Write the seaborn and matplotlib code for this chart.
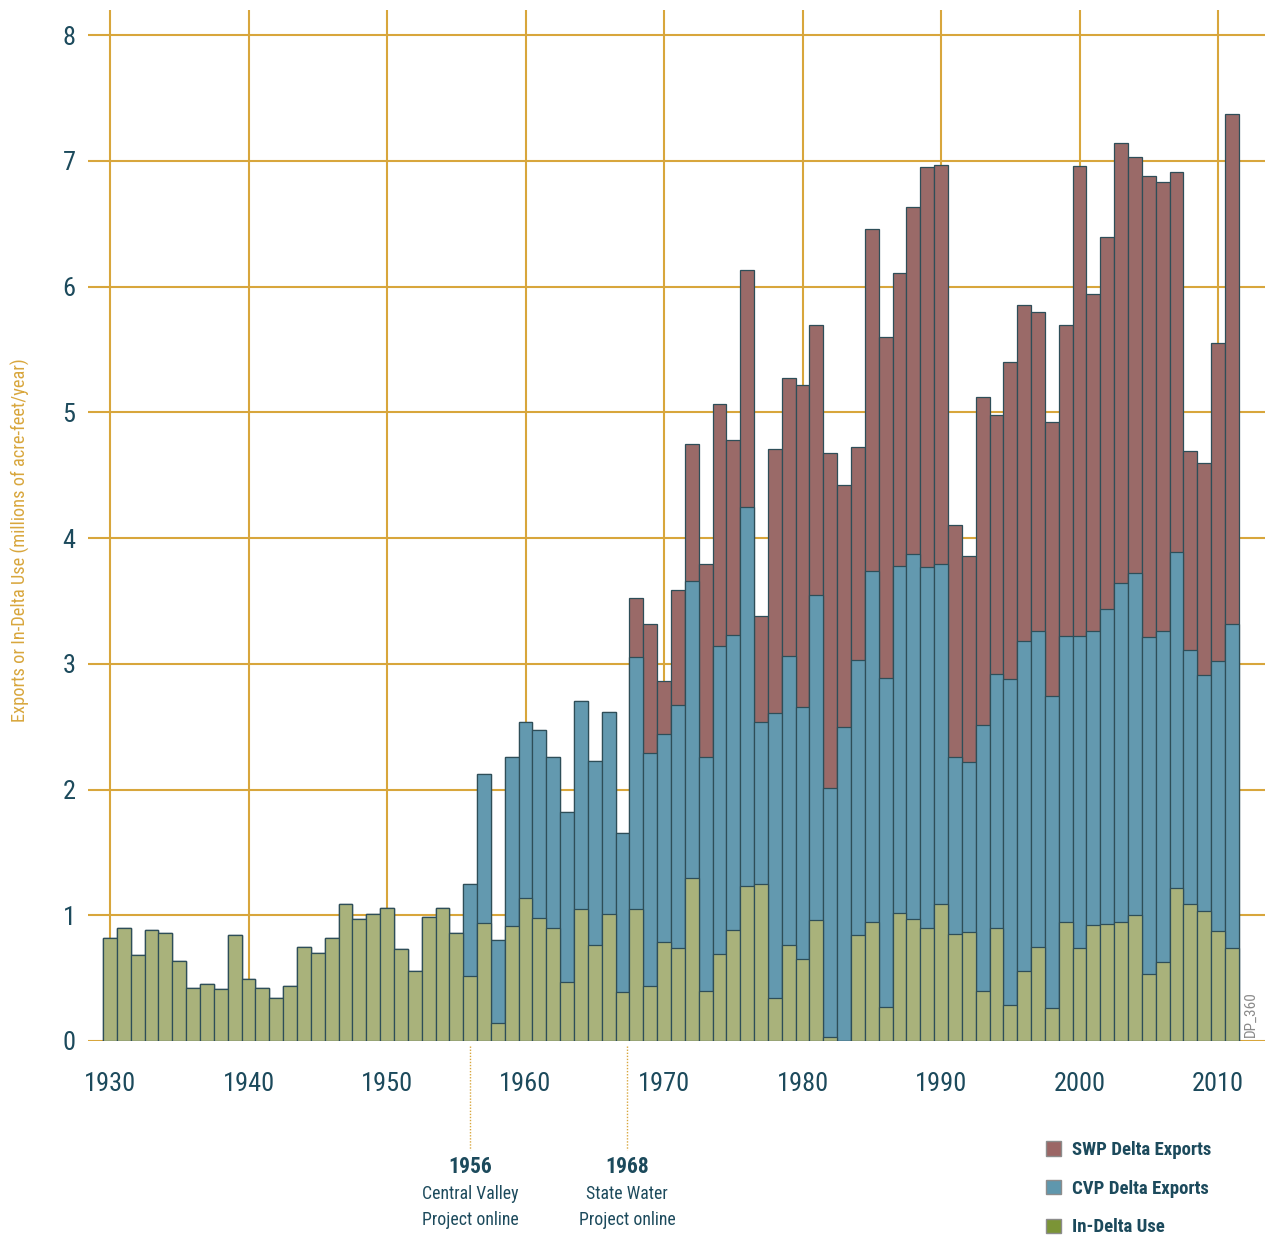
import numpy as np
import pandas as pd
import matplotlib
matplotlib.use("Agg")
import matplotlib.pyplot as plt
from matplotlib.patches import Patch
from matplotlib import font_manager as fm
import seaborn as sns

# ---------------- data (millions of acre-feet / year) ----------------
years = list(range(1930, 2012))

in_delta = [0.82, 0.90, 0.68, 0.88, 0.855, 0.64, 0.42, 0.45, 0.41, 0.845,
            0.49, 0.42, 0.34, 0.44, 0.75, 0.70, 0.82, 1.09, 0.97, 1.01,
            1.055, 0.73, 0.56, 0.99, 1.06, 0.86, 0.52, 0.935, 0.14, 0.915,
            1.14, 0.98, 0.90, 0.47, 1.05, 0.76, 1.01, 0.39, 1.05, 0.44,
            0.79, 0.74, 1.30, 0.40, 0.69, 0.88, 1.235, 1.25, 0.345, 0.76,
            0.65, 0.96, 0.035, 0.0, 0.84, 0.95, 0.27, 1.02, 0.97, 0.895,
            1.09, 0.85, 0.87, 0.395, 0.895, 0.29, 0.56, 0.75, 0.265, 0.95,
            0.74, 0.925, 0.93, 0.95, 1.00, 0.53, 0.63, 1.215, 1.09, 1.03,
            0.875, 0.74]

cvp = [0.0] * 26 + [0.73, 1.185, 0.66, 1.345,
       1.40, 1.49, 1.36, 1.35, 1.65, 1.47, 1.61, 1.265, 2.00, 1.85,
       1.65, 1.93, 2.355, 1.86, 2.455, 2.35, 3.015, 1.29, 2.265, 2.30,
       2.01, 2.59, 1.975, 2.50, 2.19, 2.79, 2.62, 2.76, 2.90, 2.875,
       2.70, 1.41, 1.345, 2.115, 2.025, 2.585, 2.62, 2.51, 2.475, 2.27,
       2.48, 2.335, 2.505, 2.69, 2.72, 2.68, 2.63, 2.675, 2.02, 1.88,
       2.145, 2.575]

swp = [0.0] * 38 + [0.475, 1.03,
       0.42, 0.915, 1.09, 1.53, 1.92, 1.55, 1.88, 0.84, 2.10, 2.215,
       2.56, 2.14, 2.67, 1.92, 1.69, 2.72, 2.71, 2.325, 2.76, 3.18,
       3.18, 1.845, 1.645, 2.61, 2.06, 2.525, 2.675, 2.535, 2.18, 2.47,
       3.74, 2.68, 2.955, 3.50, 3.31, 3.67, 3.57, 3.02, 1.58, 1.69,
       2.53, 4.055]

series_labels = ["SWP Delta Exports", "CVP Delta Exports", "In-Delta Use"]
decade_ticks = [1930, 1940, 1950, 1960, 1970, 1980, 1990, 2000, 2010]
y_ticks = [0, 1, 2, 3, 4, 5, 6, 7, 8]
milestone_labels = ["1956", "1968"]
milestone_text = ["Central Valley\nProject online", "State Water\nProject online"]
y_label = "Exports or In-Delta Use (millions of acre-feet/year)"

# ---------------- style ----------------
GOLD = "#D8A63C"
NAVY = "#1C4A5C"
C_GREEN = "#A9B27B"
C_BLUE = "#6399AF"
C_RED = "#9A6A68"
EDGE = "#2E4E58"
milestone_x = [1956.0, 1967.35]   # annotation positions on the year axis

sns.set_style("white")
names = {f.name for f in fm.fontManager.ttflist}
narrow = None
for cand in ["Roboto Condensed", "Liberation Sans Narrow", "Open Sans Condensed"]:
    if cand in names:
        narrow = cand
        break
if narrow is None:
    narrow = "DejaVu Sans"
plt.rcParams["font.family"] = [narrow, "DejaVu Sans"]
plt.rcParams["font.stretch"] = "condensed"

df = pd.DataFrame({"year": years, "in_delta": in_delta, "cvp": cvp, "swp": swp})
df["lvl_green"] = df["in_delta"]
df["lvl_blue"] = df["in_delta"] + df["cvp"]
df["lvl_red"] = df["in_delta"] + df["cvp"] + df["swp"]

W, H = 1265, 1236
fig = plt.figure(figsize=(W / 100, H / 100), dpi=100)
ax = fig.add_axes([88 / W, 1 - 1041 / H, 1 - 88 / W, (1041 - 10) / H])

for col, c in [("lvl_red", C_RED), ("lvl_blue", C_BLUE), ("lvl_green", C_GREEN)]:
    sns.barplot(data=df, x="year", y=col, native_scale=True, width=1.0,
                color=c, saturation=1, errorbar=None, edgecolor=EDGE,
                linewidth=0.9, ax=ax, zorder=3)

ax.set_xlim(1928.41, 2013.39)
ax.set_ylim(0, 8.199)
ax.set_axisbelow(True)
for s in ax.spines.values():
    s.set_visible(False)

ax.set_xticks(decade_ticks)
ax.set_xticklabels([str(t) for t in decade_ticks])
ax.set_yticks(y_ticks)
ax.set_yticklabels([str(t) for t in y_ticks])
ax.grid(True, color=GOLD, linewidth=1.5, zorder=0)
ax.tick_params(axis="x", length=17, width=1.5, color=GOLD, pad=5,
               labelsize=19, labelcolor=NAVY)
ax.tick_params(axis="y", length=0, pad=9, labelsize=19, labelcolor=NAVY)
ax.set_xlabel("")
ax.set_ylabel("")

fig.text(20 / W, 1 - 540 / H, y_label, rotation=90, color=GOLD,
         fontsize=13.2, ha="center", va="center")

# milestone annotations
for xm, lab, txt in zip(milestone_x, milestone_labels, milestone_text):
    ax.plot([xm, xm], [-0.04, -0.87], color=GOLD, lw=1.0, ls=(0, (1, 1.2)),
            clip_on=False)
    ax.text(xm, -1.0, lab, ha="center", va="center", fontsize=15.5,
            fontweight="bold", color=NAVY, clip_on=False)
    ax.text(xm, -1.32, txt, ha="center", va="center", fontsize=12.8,
            color=NAVY, linespacing=1.6, clip_on=False)

handles = [Patch(facecolor="#9B6665", edgecolor="#8c8c8c"),
           Patch(facecolor="#5F97AD", edgecolor="#8c8c8c"),
           Patch(facecolor="#7B9436", edgecolor="#8c8c8c")]
fig.legend(handles, series_labels, loc="upper left",
           bbox_to_anchor=(1046 / W, 1 - 1141 / H), frameon=False,
           fontsize=13.5, labelcolor=NAVY, handlelength=0.78, handleheight=0.78,
           handletextpad=0.6, labelspacing=1.1, borderaxespad=0,
           borderpad=0)
for t in fig.legends[0].get_texts():
    t.set_fontweight("bold")

fig.text(1251 / W, 1 - 1014 / H, "DP_360", rotation=90, color="#8a8a8a",
         fontsize=11, ha="center", va="center")

fig.savefig("out.png", dpi=100)
